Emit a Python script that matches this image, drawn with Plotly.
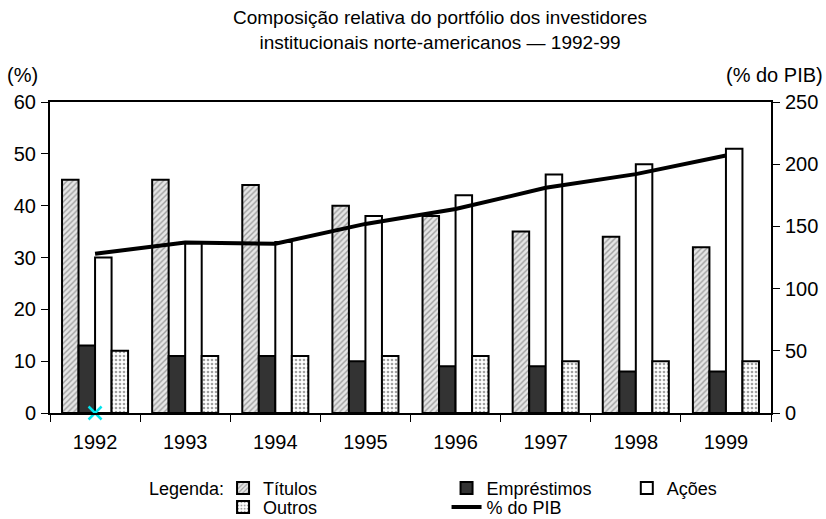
import plotly.graph_objects as go

anos = ["1992", "1993", "1994", "1995", "1996", "1997", "1998", "1999"]
titulos = [45, 45, 44, 40, 38, 35, 34, 32]
emprestimos = [13, 11, 11, 10, 9, 9, 8, 8]
acoes = [30, 33, 33, 38, 42, 46, 48, 51]
outros = [12, 11, 11, 11, 11, 10, 10, 10]
pib = [128, 137, 136, 152, 164, 181, 192, 207]
marcador_x = ["1992"]
marcador_y = [0]

FONT = "Liberation Sans"
line = dict(color="black", width=2)

fig = go.Figure()
fig.add_trace(go.Bar(
    x=anos, y=titulos, name="Títulos", legend="legend",
    marker=dict(color="#e6e6e6", line=line,
                pattern=dict(shape="/", fgcolor="#555555", bgcolor="#e6e6e6",
                             size=4, solidity=0.35)),
))
fig.add_trace(go.Bar(
    x=anos, y=emprestimos, name="Empréstimos", legend="legend2",
    marker=dict(color="#333333", line=line),
))
fig.add_trace(go.Bar(
    x=anos, y=acoes, name="Ações", legend="legend3",
    marker=dict(color="white", line=line),
))
fig.add_trace(go.Bar(
    x=anos, y=outros, name="Outros", legend="legend4",
    marker=dict(color="white", line=line,
                pattern=dict(shape=".", fgcolor="#444444", bgcolor="white",
                             size=4, solidity=0.35)),
))
fig.add_trace(go.Scatter(
    x=anos, y=pib, name="% do PIB", yaxis="y2", legend="legend5",
    mode="lines", line=dict(color="black", width=4),
))
fig.add_trace(go.Scatter(
    x=marcador_x, y=marcador_y, mode="markers", showlegend=False,
    cliponaxis=False, hoverinfo="skip",
    marker=dict(symbol="x-thin", size=13, line=dict(color="#00e5ee", width=2.5)),
))

axis_common = dict(showgrid=False, zeroline=False, linecolor="black", linewidth=2,
                   ticks="outside", ticklen=7, tickwidth=1, tickcolor="black",
                   automargin=False,
                   tickfont=dict(family=FONT, size=20, color="black"))

leg = dict(yanchor="top", xanchor="left", orientation="v", tracegroupgap=0,
           font=dict(family=FONT, size=18), bgcolor="rgba(0,0,0,0)")
row1 = -0.183
row2 = -0.244

fig.update_layout(
    width=826, height=519,
    margin=dict(l=50, r=55, t=102, b=106, autoexpand=False),
    paper_bgcolor="white", plot_bgcolor="white",
    font=dict(family=FONT, color="black"),
    barmode="group", bargap=0.267, bargroupgap=0,
    xaxis=dict(type="category", tickson="boundaries", showline=True, mirror=True,
               ticklabelstandoff=10, **axis_common),
    yaxis=dict(range=[0, 60], dtick=10, showline=True, mirror=True,
               ticklabelstandoff=1, **axis_common),
    yaxis2=dict(range=[0, 250], dtick=50, overlaying="y", side="right", showline=True,
                ticklabelstandoff=1, **axis_common),
    yaxis3=dict(range=[0, 60], dtick=10, overlaying="y", side="left", showline=False,
                showticklabels=False, showgrid=False, zeroline=False, automargin=False,
                ticks="inside", ticklen=7, tickcolor="black"),
    yaxis4=dict(range=[0, 250], dtick=50, overlaying="y", side="right", showline=False,
                showticklabels=False, showgrid=False, zeroline=False, automargin=False,
                ticks="inside", ticklen=7, tickcolor="black"),
    showlegend=True,
    legend=dict(x=0.240, y=row1, **leg),
    legend2=dict(x=0.55, y=row1, **leg),
    legend3=dict(x=0.80, y=row1, **leg),
    legend4=dict(x=0.240, y=row2, **leg),
    legend5=dict(x=0.55, y=row2, **leg),
    annotations=[
        dict(text="Composição relativa do portfólio dos investidores<br>institucionais norte-americanos — 1992-99",
             xref="paper", yref="paper", x=0.541, y=1.0, yshift=97, xanchor="center", yanchor="top",
             showarrow=False, font=dict(family=FONT, size=19)),
        dict(text="(%)", xref="paper", yref="paper", x=0, xshift=-45, y=1, yshift=27,
             xanchor="left", yanchor="middle", showarrow=False, font=dict(family=FONT, size=20)),
        dict(text="(% do PIB)", xref="paper", yref="paper", x=1, xshift=54, y=1, yshift=27,
             xanchor="right", yanchor="middle", showarrow=False, font=dict(family=FONT, size=20)),
        dict(text="Legenda:", xref="paper", yref="paper", x=0, xshift=97, y=0, yshift=-76,
             xanchor="left", yanchor="middle", showarrow=False, font=dict(family=FONT, size=18)),
    ],
)

fig.write_html("out.html", config={"displayModeBar": False},
               post_script="document.body.style.margin='0';document.body.style.overflow='hidden';")
